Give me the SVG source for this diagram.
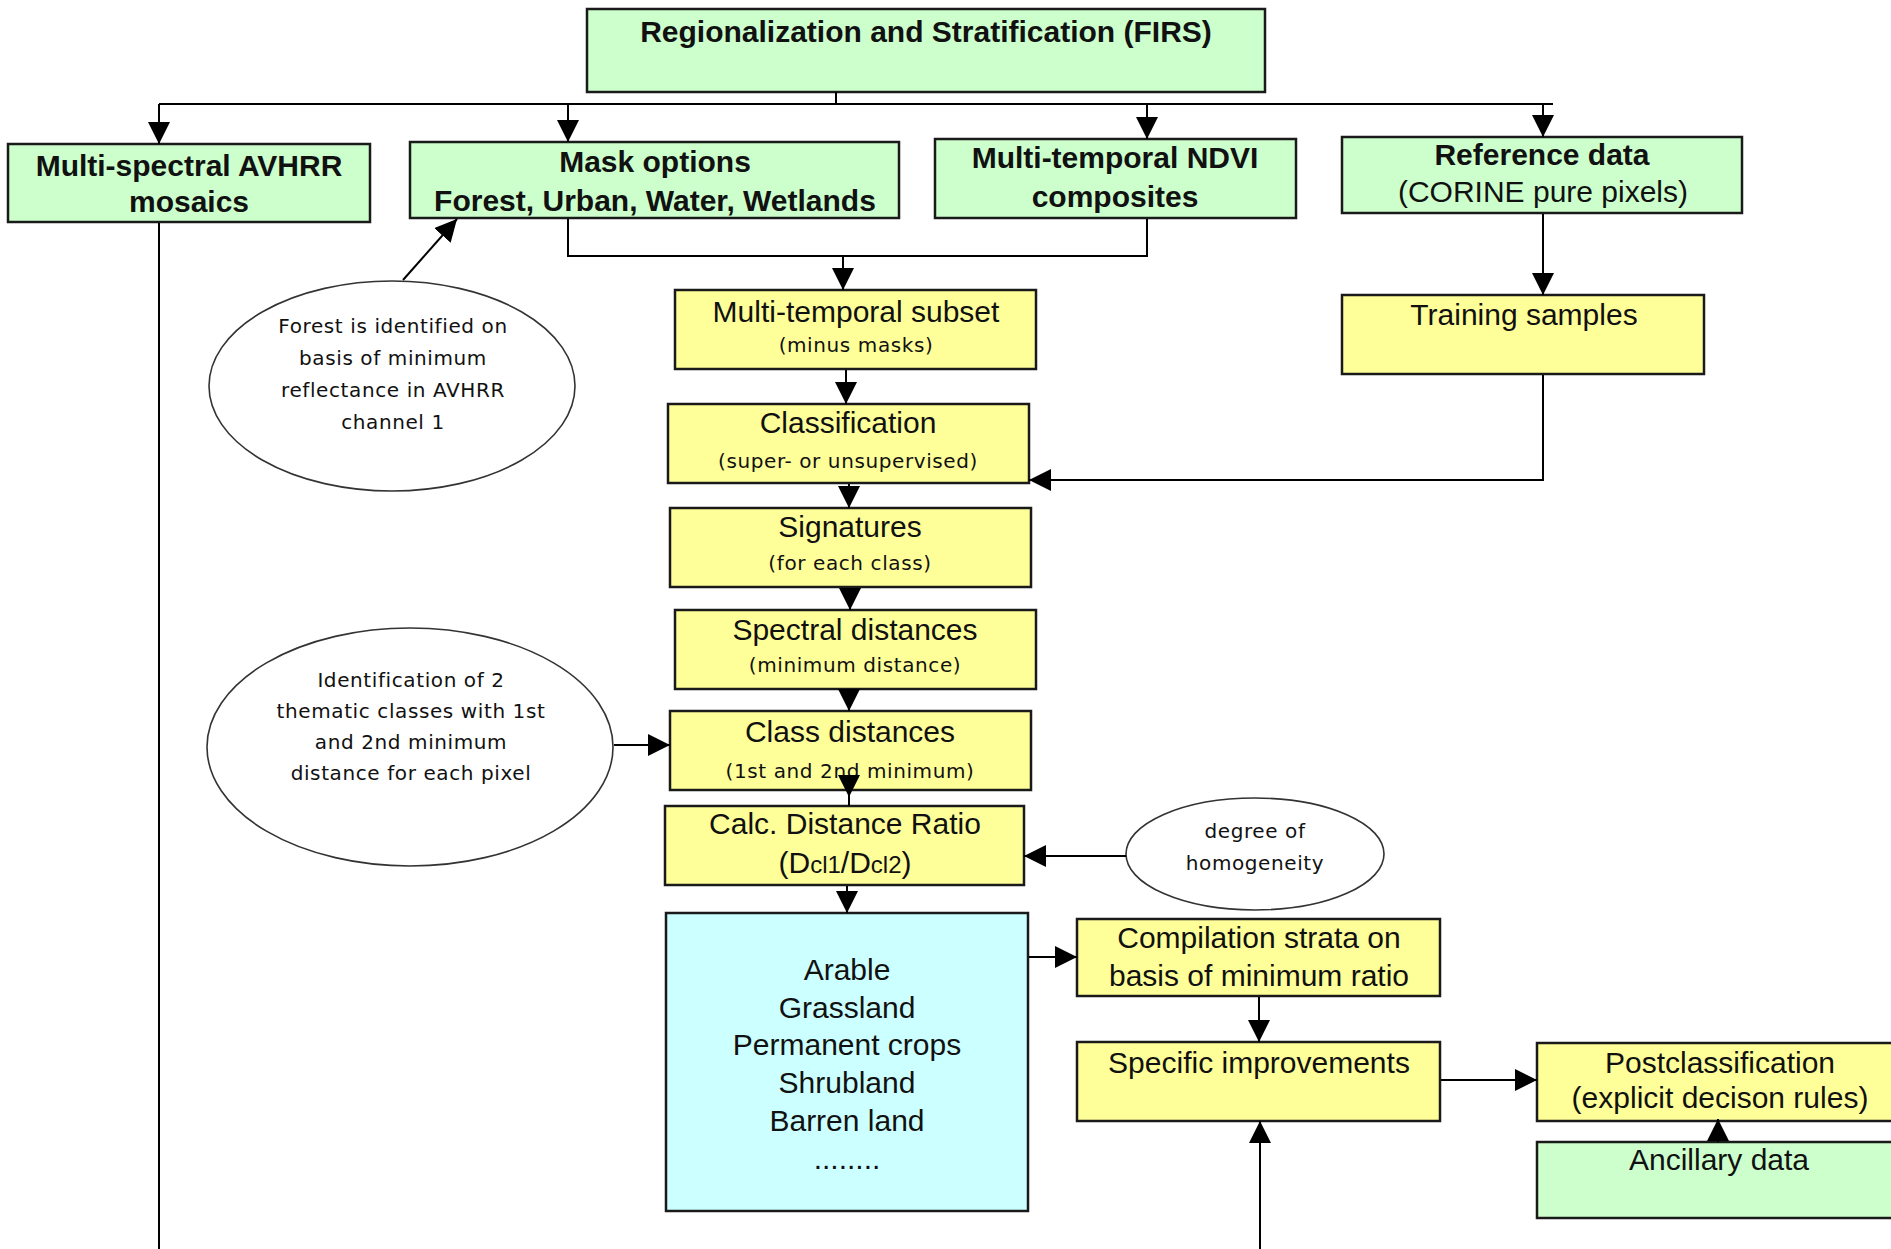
<svg xmlns="http://www.w3.org/2000/svg" width="1891" height="1249" viewBox="0 0 1891 1249">
<defs>
<marker id="ah" viewBox="0 0 22 22" refX="22" refY="11" markerWidth="22" markerHeight="22" markerUnits="userSpaceOnUse" orient="auto"><path d="M0,0 L22,11 L0,22 z" fill="#000"/></marker>
</defs>
<style>
.box{stroke:#1a1a1a;stroke-width:2.5}
.g{fill:#ccffcc}.y{fill:#ffff99}.c{fill:#ccffff}
.ell{fill:#ffffff;stroke:#333333;stroke-width:1.6}
.b{font-family:"Liberation Sans",Arial,sans-serif;font-weight:bold;font-size:30px;fill:#111111;text-anchor:middle}
.r{font-family:"Liberation Sans",Arial,sans-serif;font-size:30px;fill:#111111;text-anchor:middle}
.s{font-family:"DejaVu Sans",Verdana,sans-serif;font-size:20px;letter-spacing:0.6px;fill:#111111;text-anchor:middle}
.sub{font-size:24px}
.ln{fill:none;stroke:#000000;stroke-width:2}
.arr{marker-end:url(#ah)}
</style>
<rect width="1891" height="1249" fill="#ffffff"/>

<g id="firs">
<rect class="box g" x="587" y="9" width="678" height="83"/>
<text class="b" x="926" y="42">Regionalization and Stratification (FIRS)</text>
</g>

<g id="avhrr">
<rect class="box g" x="8" y="144" width="362" height="78"/>
<text class="b" x="189" y="176">Multi-spectral AVHRR</text>
<text class="b" x="189" y="212">mosaics</text>
</g>

<g id="mask">
<rect class="box g" x="410" y="142" width="489" height="76"/>
<text class="b" x="655" y="172">Mask options</text>
<text class="b" x="655" y="211">Forest, Urban, Water, Wetlands</text>
</g>

<g id="ndvi">
<rect class="box g" x="935" y="139" width="361" height="79"/>
<text class="b" x="1115" y="168">Multi-temporal NDVI</text>
<text class="b" x="1115" y="207">composites</text>
</g>

<g id="reference">
<rect class="box g" x="1342" y="137" width="400" height="76"/>
<text class="b" x="1542" y="165">Reference data</text>
<text class="r" x="1543" y="202">(CORINE pure pixels)</text>
</g>

<g id="training">
<rect class="box y" x="1342" y="295" width="362" height="79"/>
<text class="r" x="1524" y="325">Training samples</text>
</g>

<g id="forest-note">
<ellipse class="ell" cx="392" cy="386" rx="183" ry="105"/>
<text class="s" x="393" y="333">Forest is identified on</text>
<text class="s" x="393" y="365">basis of minimum</text>
<text class="s" x="393" y="397">reflectance in AVHRR</text>
<text class="s" x="393" y="429">channel 1</text>
</g>

<g id="subset">
<rect class="box y" x="675" y="290" width="361" height="79"/>
<text class="r" x="856" y="322">Multi-temporal subset</text>
<text class="s" x="856" y="352">(minus masks)</text>
</g>

<g id="classification">
<rect class="box y" x="668" y="404" width="361" height="79"/>
<text class="r" x="848" y="433">Classification</text>
<text class="s" x="848" y="468">(super- or unsupervised)</text>
</g>

<g id="signatures">
<rect class="box y" x="670" y="508" width="361" height="79"/>
<text class="r" x="850" y="537">Signatures</text>
<text class="s" x="850" y="570">(for each class)</text>
</g>

<g id="spectral">
<rect class="box y" x="675" y="610" width="361" height="79"/>
<text class="r" x="855" y="640">Spectral distances</text>
<text class="s" x="855" y="672">(minimum distance)</text>
</g>

<g id="identification-note">
<ellipse class="ell" cx="410" cy="747" rx="203" ry="119"/>
<text class="s" x="411" y="687">Identification of 2</text>
<text class="s" x="411" y="718">thematic classes with 1st</text>
<text class="s" x="411" y="749">and 2nd minimum</text>
<text class="s" x="411" y="780">distance for each pixel</text>
</g>

<g id="class-distances">
<rect class="box y" x="670" y="711" width="361" height="79"/>
<text class="r" x="850" y="742">Class distances</text>
<text class="s" x="850" y="778">(1st and 2nd minimum)</text>
</g>

<g id="ratio">
<rect class="box y" x="665" y="806" width="359" height="79"/>
<text class="r" x="845" y="834">Calc. Distance Ratio</text>
<text class="r" x="845" y="873">(D<tspan class="sub">cl1</tspan>/D<tspan class="sub">cl2</tspan>)</text>
</g>

<g id="homogeneity-note">
<ellipse class="ell" cx="1255" cy="854" rx="129" ry="56"/>
<text class="s" x="1255" y="838">degree of</text>
<text class="s" x="1255" y="870">homogeneity</text>
</g>

<g id="classes">
<rect class="box c" x="666" y="913" width="362" height="298"/>
<text class="r" x="847" y="980">Arable</text>
<text class="r" x="847" y="1018">Grassland</text>
<text class="r" x="847" y="1055">Permanent crops</text>
<text class="r" x="847" y="1093">Shrubland</text>
<text class="r" x="847" y="1131">Barren land</text>
<text class="r" x="847" y="1169">........</text>
</g>

<g id="compilation">
<rect class="box y" x="1077" y="919" width="363" height="77"/>
<text class="r" x="1259" y="948">Compilation strata on</text>
<text class="r" x="1259" y="986">basis of minimum ratio</text>
</g>

<g id="improvements">
<rect class="box y" x="1077" y="1042" width="363" height="79"/>
<text class="r" x="1259" y="1073">Specific improvements</text>
</g>

<g id="postclassification">
<rect class="box y" x="1537" y="1043" width="400" height="78"/>
<text class="r" x="1720" y="1073">Postclassification</text>
<text class="r" x="1720" y="1108">(explicit decison rules)</text>
</g>

<g id="ancillary">
<rect class="box g" x="1537" y="1142" width="400" height="76"/>
<text class="r" x="1719" y="1170">Ancillary data</text>
</g>

<g id="connectors">
<path class="ln" d="M836,92 V104"/>
<path class="ln" d="M159,104 H1553"/>
<path class="ln arr" d="M159,104 V144"/>
<path class="ln arr" d="M568,104 V142"/>
<path class="ln arr" d="M1147,104 V139"/>
<path class="ln arr" d="M1543,104 V137"/>
<path class="ln" d="M159,223 V1249"/>
<path class="ln" d="M568,219 V256 H1147 V219"/>
<path class="ln arr" d="M843,256 V290"/>
<path class="ln arr" d="M403,280 L457,219"/>
<path class="ln arr" d="M1543,214 V295"/>
<path class="ln arr" d="M1543,375 V480 H1029"/>
<path class="ln arr" d="M846,370 V404"/>
<path class="ln arr" d="M849,484 V508"/>
<path class="ln arr" d="M850,588 V610"/>
<path class="ln arr" d="M849,690 V711"/>
<path class="ln" d="M849,790 V806"/>
<path class="ln arr" d="M849,776 V797"/>
<path class="ln arr" d="M847,886 V913"/>
<path class="ln arr" d="M614,745 H670"/>
<path class="ln arr" d="M1126,856 H1024"/>
<path class="ln arr" d="M1029,957 H1077"/>
<path class="ln arr" d="M1259,997 V1042"/>
<path class="ln arr" d="M1441,1080 H1537"/>
<path class="ln arr" d="M1718,1142 V1119"/>
<path class="ln arr" d="M1260,1249 V1121"/>
</g>
</svg>
